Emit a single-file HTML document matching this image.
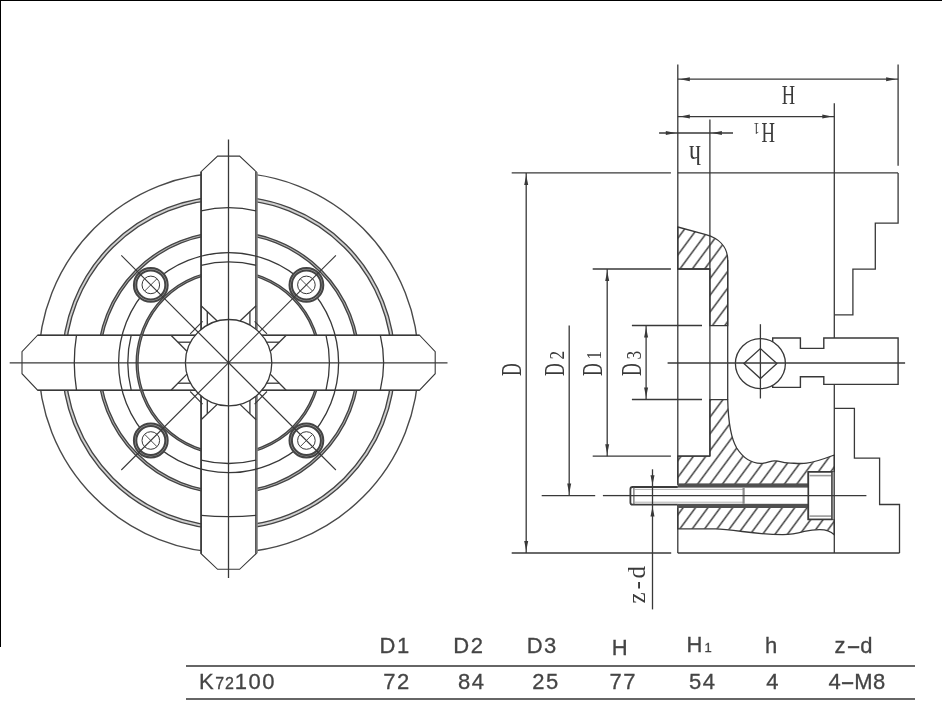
<!DOCTYPE html>
<html lang="en">
<head>
<meta charset="utf-8">
<title>K72100 four-jaw chuck dimensions</title>
<style>
html,body{margin:0;padding:0;background:#fff;}
body{width:942px;height:712px;overflow:hidden;position:relative;font-family:"Liberation Sans",sans-serif;}
#frame-top{position:absolute;left:0;top:0;width:942px;height:1.2px;background:#000;}
#frame-left{position:absolute;left:0;top:0;width:1.2px;height:646.5px;background:#000;}
svg{position:absolute;left:0;top:0;}
#sheet{position:absolute;left:0;top:0;width:942px;height:712px;filter:grayscale(1);}
.tbl{position:absolute;left:185.8px;width:729.7px;height:1.8px;background:#666;}
.t{position:absolute;white-space:nowrap;color:#444;font-size:22px;line-height:22px;letter-spacing:1.5px;-webkit-text-stroke:0.3px #444;}
.t .dash{display:inline-block;transform:scaleX(2.0);margin:0 3.1px 0 2.7px;letter-spacing:0;}
.t small{font-size:16px;letter-spacing:0.9px;}
.t .s1{font-size:13px;letter-spacing:0;position:relative;top:0.5px;margin-left:0.6px;}
</style>
</head>
<body>
<div id="sheet">
<svg width="942" height="712" viewBox="0 0 942 712">
<g id="front" fill="none">
<circle cx="228.60" cy="362.70" r="190.00" stroke="#4a4a4a" stroke-width="1.4" fill="none"/>
<circle cx="228.60" cy="362.70" r="164.90" stroke="#d0d0d0" stroke-width="3.2" fill="none"/>
<circle cx="228.60" cy="362.70" r="163.30" stroke="#444" stroke-width="1.35" fill="none"/>
<circle cx="228.60" cy="362.70" r="166.50" stroke="#444" stroke-width="1.35" fill="none"/>
<circle cx="228.60" cy="362.70" r="130.00" stroke="#b4b4b4" stroke-width="2.3" fill="none"/>
<circle cx="228.60" cy="362.70" r="128.85" stroke="#444" stroke-width="1.35" fill="none"/>
<circle cx="228.60" cy="362.70" r="131.15" stroke="#444" stroke-width="1.35" fill="none"/>
<circle cx="228.60" cy="362.70" r="91.40" stroke="#a8a8a8" stroke-width="1.8" fill="none"/>
<circle cx="228.60" cy="362.70" r="90.50" stroke="#444" stroke-width="1.35" fill="none"/>
<circle cx="228.60" cy="362.70" r="92.30" stroke="#444" stroke-width="1.35" fill="none"/>
<path d="M201.10,342.70 L201.10,171.70 L217.60,156.10 L239.60,156.10 L256.10,171.70 L256.10,342.70" stroke="#383838" stroke-width="1.1" fill="#fff" />
<line x1="201.10" y1="171.70" x2="201.10" y2="332.70" stroke="#383838" stroke-width="1.6" />
<line x1="256.10" y1="171.70" x2="256.10" y2="332.70" stroke="#383838" stroke-width="1.6" />
<line x1="257.00" y1="172.20" x2="257.00" y2="329.70" stroke="#808080" stroke-width="1.6" />
<path d="M248.60,335.20 L419.60,335.20 L435.20,351.70 L435.20,373.70 L419.60,390.20 L248.60,390.20" stroke="#383838" stroke-width="1.1" fill="#fff" />
<line x1="419.60" y1="335.20" x2="258.60" y2="335.20" stroke="#383838" stroke-width="1.6" />
<line x1="419.60" y1="390.20" x2="258.60" y2="390.20" stroke="#383838" stroke-width="1.6" />
<path d="M256.10,382.70 L256.10,553.70 L239.60,569.30 L217.60,569.30 L201.10,553.70 L201.10,382.70" stroke="#383838" stroke-width="1.1" fill="#fff" />
<line x1="256.10" y1="553.70" x2="256.10" y2="392.70" stroke="#383838" stroke-width="1.6" />
<line x1="201.10" y1="553.70" x2="201.10" y2="392.70" stroke="#383838" stroke-width="1.6" />
<line x1="257.00" y1="553.20" x2="257.00" y2="395.70" stroke="#808080" stroke-width="1.6" />
<path d="M208.60,390.20 L37.60,390.20 L22.00,373.70 L22.00,351.70 L37.60,335.20 L208.60,335.20" stroke="#383838" stroke-width="1.1" fill="#fff" />
<line x1="37.60" y1="390.20" x2="198.60" y2="390.20" stroke="#383838" stroke-width="1.6" />
<line x1="37.60" y1="335.20" x2="198.60" y2="335.20" stroke="#383838" stroke-width="1.6" />
<circle cx="228.60" cy="362.70" r="110.00" stroke="#383838" stroke-width="1.3" fill="none"/>
<path d="M201.10,210.90 Q228.60,204.50 256.10,210.90" stroke="#383838" stroke-width="1.3" fill="none" />
<path d="M201.10,265.30 Q228.60,258.50 256.10,265.30" stroke="#383838" stroke-width="1.3" fill="none" />
<path d="M380.30,335.20 Q386.90,362.70 380.30,390.20" stroke="#383838" stroke-width="1.3" fill="none" />
<path d="M326.00,335.20 Q332.80,362.70 326.00,390.20" stroke="#383838" stroke-width="1.3" fill="none" />
<path d="M256.10,515.40 Q228.60,518.00 201.10,515.40" stroke="#383838" stroke-width="1.3" fill="none" />
<path d="M256.10,460.10 Q228.60,466.90 201.10,460.10" stroke="#383838" stroke-width="1.3" fill="none" />
<path d="M76.50,390.20 Q72.10,362.70 76.50,335.20" stroke="#383838" stroke-width="1.3" fill="none" />
<path d="M131.20,390.20 Q124.40,362.70 131.20,335.20" stroke="#383838" stroke-width="1.3" fill="none" />
<path d="M141.44,335.20 A91.4,91.4 0 0 0 141.44,390.20" stroke="#a8a8a8" stroke-width="1.8" fill="none" />
<path d="M142.38,335.20 A90.5,90.5 0 0 0 142.38,390.20" stroke="#444" stroke-width="1.35" fill="none" />
<path d="M140.49,335.20 A92.30000000000001,92.30000000000001 0 0 0 140.49,390.20" stroke="#444" stroke-width="1.35" fill="none" />
<circle cx="228.60" cy="362.70" r="43.20" stroke="#383838" stroke-width="1.3" fill="#fff"/>
<line x1="201.10" y1="305.70" x2="217.20" y2="321.03" stroke="#383838" stroke-width="1.3" />
<line x1="207.30" y1="311.60" x2="207.30" y2="325.12" stroke="#383838" stroke-width="1.3" />
<line x1="256.10" y1="305.70" x2="240.00" y2="321.03" stroke="#383838" stroke-width="1.3" />
<line x1="249.90" y1="311.60" x2="249.90" y2="325.12" stroke="#383838" stroke-width="1.3" />
<line x1="286.20" y1="335.20" x2="270.27" y2="351.30" stroke="#383838" stroke-width="1.3" />
<line x1="279.27" y1="342.20" x2="266.63" y2="342.20" stroke="#383838" stroke-width="1.3" />
<line x1="286.20" y1="390.20" x2="270.27" y2="374.10" stroke="#383838" stroke-width="1.3" />
<line x1="279.27" y1="383.20" x2="266.63" y2="383.20" stroke="#383838" stroke-width="1.3" />
<line x1="256.10" y1="419.70" x2="240.00" y2="404.37" stroke="#383838" stroke-width="1.3" />
<line x1="249.90" y1="413.80" x2="249.90" y2="400.28" stroke="#383838" stroke-width="1.3" />
<line x1="201.10" y1="419.70" x2="217.20" y2="404.37" stroke="#383838" stroke-width="1.3" />
<line x1="207.30" y1="413.80" x2="207.30" y2="400.28" stroke="#383838" stroke-width="1.3" />
<line x1="171.00" y1="390.20" x2="186.93" y2="374.10" stroke="#383838" stroke-width="1.3" />
<line x1="177.93" y1="383.20" x2="190.57" y2="383.20" stroke="#383838" stroke-width="1.3" />
<line x1="171.00" y1="335.20" x2="186.93" y2="351.30" stroke="#383838" stroke-width="1.3" />
<line x1="177.93" y1="342.20" x2="190.57" y2="342.20" stroke="#383838" stroke-width="1.3" />
<circle cx="150.80" cy="284.90" r="15.50" stroke="#fff" stroke-width="3.9" fill="#fff"/>
<circle cx="150.80" cy="284.90" r="15.70" stroke="#b0b0b0" stroke-width="2.4" fill="none"/>
<circle cx="150.80" cy="284.90" r="14.50" stroke="#444" stroke-width="2.0" fill="none"/>
<circle cx="150.80" cy="284.90" r="16.90" stroke="#444" stroke-width="2.0" fill="none"/>
<circle cx="150.80" cy="284.90" r="8.80" stroke="#383838" stroke-width="1.0" fill="none"/>
<line x1="156.88" y1="278.82" x2="144.72" y2="290.98" stroke="#383838" stroke-width="0.9" />
<circle cx="150.80" cy="440.50" r="15.50" stroke="#fff" stroke-width="3.9" fill="#fff"/>
<circle cx="150.80" cy="440.50" r="15.70" stroke="#b0b0b0" stroke-width="2.4" fill="none"/>
<circle cx="150.80" cy="440.50" r="14.50" stroke="#444" stroke-width="2.0" fill="none"/>
<circle cx="150.80" cy="440.50" r="16.90" stroke="#444" stroke-width="2.0" fill="none"/>
<circle cx="150.80" cy="440.50" r="8.80" stroke="#383838" stroke-width="1.0" fill="none"/>
<line x1="156.88" y1="446.58" x2="144.72" y2="434.42" stroke="#383838" stroke-width="0.9" />
<circle cx="306.40" cy="284.90" r="15.50" stroke="#fff" stroke-width="3.9" fill="#fff"/>
<circle cx="306.40" cy="284.90" r="15.70" stroke="#b0b0b0" stroke-width="2.4" fill="none"/>
<circle cx="306.40" cy="284.90" r="14.50" stroke="#444" stroke-width="2.0" fill="none"/>
<circle cx="306.40" cy="284.90" r="16.90" stroke="#444" stroke-width="2.0" fill="none"/>
<circle cx="306.40" cy="284.90" r="8.80" stroke="#383838" stroke-width="1.0" fill="none"/>
<line x1="300.32" y1="278.82" x2="312.48" y2="290.98" stroke="#383838" stroke-width="0.9" />
<circle cx="306.40" cy="440.50" r="15.50" stroke="#fff" stroke-width="3.9" fill="#fff"/>
<circle cx="306.40" cy="440.50" r="15.70" stroke="#b0b0b0" stroke-width="2.4" fill="none"/>
<circle cx="306.40" cy="440.50" r="14.50" stroke="#444" stroke-width="2.0" fill="none"/>
<circle cx="306.40" cy="440.50" r="16.90" stroke="#444" stroke-width="2.0" fill="none"/>
<circle cx="306.40" cy="440.50" r="8.80" stroke="#383838" stroke-width="1.0" fill="none"/>
<line x1="300.32" y1="446.58" x2="312.48" y2="434.42" stroke="#383838" stroke-width="0.9" />
<line x1="202.60" y1="321.30" x2="190.20" y2="333.90" stroke="#383838" stroke-width="1.1" />
<line x1="202.60" y1="404.10" x2="190.20" y2="391.50" stroke="#383838" stroke-width="1.1" />
<line x1="254.60" y1="321.30" x2="267.00" y2="333.90" stroke="#383838" stroke-width="1.1" />
<line x1="254.60" y1="404.10" x2="267.00" y2="391.50" stroke="#383838" stroke-width="1.1" />
<line x1="121.30" y1="255.40" x2="335.90" y2="470.00" stroke="#383838" stroke-width="1.1" />
<line x1="121.30" y1="470.00" x2="335.90" y2="255.40" stroke="#383838" stroke-width="1.1" />
<line x1="9.70" y1="362.80" x2="447.50" y2="362.80" stroke="#383838" stroke-width="1.3" />
<line x1="228.50" y1="139.60" x2="228.50" y2="578.00" stroke="#383838" stroke-width="1.3" />
</g>
<defs>
<pattern id="hatch" width="12.4" height="700" patternUnits="userSpaceOnUse" patternTransform="translate(872.71,0) skewX(-36.5)"><line x1="6.2" y1="-10" x2="6.2" y2="710" stroke="#444" stroke-width="1.9"/></pattern>
<pattern id="hatch2" width="12.4" height="700" patternUnits="userSpaceOnUse" patternTransform="translate(1037.25,0) skewX(-36.5)"><line x1="6.2" y1="-10" x2="6.2" y2="710" stroke="#444" stroke-width="1.9"/></pattern>
<pattern id="hatch3" width="12.4" height="700" patternUnits="userSpaceOnUse" patternTransform="translate(1064.99,0) skewX(-36.5)"><line x1="6.2" y1="-10" x2="6.2" y2="710" stroke="#444" stroke-width="1.9"/></pattern>
</defs>
<g id="section" fill="none">
<path d="M677.8,227 L705.9,234.6 C717.9,238 727.7,246 727.7,260 L727.7,325.6 L709.9,325.6 L709.9,269 L677.8,269 Z" stroke="#383838" stroke-width="1.3" fill="url(#hatch)" />
<path d="M709.9,399.6 L727.7,399.6 C728.2,420 730.7,438 736.7,448 C743.7,459 751.7,463.2 760.7,463.4 C767.7,463.4 769.7,460.8 774.7,460.8 C780.7,460.8 781.7,462.7 787.7,462.9 C795.7,463.2 799.7,464 806.7,463.2 C813.7,462.4 822.3,459.5 834.3,455 L834.3,471.9 L808.3,471.9 L808.3,484.6 L677.8,484.6 L677.8,456.1 L709.9,456.1 Z" stroke="#383838" stroke-width="1.3" fill="url(#hatch2)" />
<path d="M677.8,505.6 L808.3,505.6 L808.3,519.4 L834.3,519.4 L834.3,534.8 C831.3,532 826.3,529.4 819.3,529.6 C812.3,529.8 808.3,530.6 804.3,531.4 C796.3,533.6 790.3,534.8 782.3,534.7 C772.3,534.6 756.3,533.4 742.3,531.5 C730.3,529.8 722.3,528.8 715.3,528.8 L677.8,528.8 Z" stroke="#383838" stroke-width="1.3" fill="url(#hatch3)" />
<line x1="677.80" y1="269.00" x2="709.90" y2="269.00" stroke="#383838" stroke-width="1.6" />
<line x1="677.80" y1="456.10" x2="709.90" y2="456.10" stroke="#383838" stroke-width="1.3" />
<line x1="677.80" y1="64.40" x2="677.80" y2="483.40" stroke="#383838" stroke-width="1.3" />
<line x1="677.80" y1="508.00" x2="677.80" y2="553.00" stroke="#383838" stroke-width="1.3" />
<line x1="709.90" y1="119.50" x2="709.90" y2="456.10" stroke="#383838" stroke-width="1.3" />
<line x1="727.70" y1="260.00" x2="727.70" y2="399.60" stroke="#383838" stroke-width="1.3" />
<line x1="834.30" y1="103.20" x2="834.30" y2="337.90" stroke="#383838" stroke-width="1.3" />
<line x1="834.30" y1="384.30" x2="834.30" y2="553.00" stroke="#383838" stroke-width="1.3" />
<line x1="898.10" y1="64.60" x2="898.10" y2="165.80" stroke="#383838" stroke-width="1.3" />
<line x1="511.70" y1="172.90" x2="670.90" y2="172.90" stroke="#383838" stroke-width="1.3" />
<line x1="677.80" y1="172.90" x2="898.10" y2="172.90" stroke="#383838" stroke-width="1.3" />
<line x1="511.70" y1="553.00" x2="671.20" y2="553.00" stroke="#383838" stroke-width="1.3" />
<line x1="677.80" y1="553.00" x2="899.50" y2="553.00" stroke="#383838" stroke-width="1.3" />
<line x1="667.60" y1="363.00" x2="905.10" y2="363.00" stroke="#383838" stroke-width="1.3" />
<path d="M898.10,172.90 L898.10,223.10 L875.30,223.10 L875.30,269.20 L852.90,269.20 L852.90,314.80 L834.30,314.80" stroke="#383838" stroke-width="1.3" fill="none" />
<path d="M834.30,408.40 L854.40,408.40 L854.40,458.10 L879.60,458.10 L879.60,504.50 L899.50,504.50 L899.50,553.00" stroke="#383838" stroke-width="1.3" fill="none" />
<circle cx="760.40" cy="363.60" r="25.00" stroke="#383838" stroke-width="1.3" fill="none"/>
<path d="M743.90,363.60 L760.40,348.60 L776.90,363.60 L760.40,378.60 Z" stroke="#383838" stroke-width="1.3" fill="none" />
<line x1="760.40" y1="324.20" x2="760.40" y2="398.50" stroke="#383838" stroke-width="1.3" />
<path d="M772.70,342.00 L772.70,338.00 L800.40,338.00 L800.40,348.40 L823.80,348.40 L823.80,338.00 L898.10,338.00 L898.10,384.40 L823.80,384.40 L823.80,376.70 L800.40,376.70 L800.40,387.40 L772.70,387.40 L772.70,385.40" stroke="#383838" stroke-width="1.4" fill="none" />
<rect x="677.8" y="483.4" width="130.50" height="4.2" fill="#505050"/>
<rect x="677.8" y="503.8" width="130.50" height="4.2" fill="#505050"/>
<path d="M677.8,487.0 L632.6,487.0 Q630.4,487.0 630.4,489.2 L630.4,502.4 Q630.4,504.6 632.6,504.6 L677.8,504.6" stroke="#3c3c3c" stroke-width="1.8" fill="none" />
<line x1="633.90" y1="487.00" x2="633.90" y2="504.60" stroke="#555" stroke-width="1.1" />
<line x1="634.00" y1="489.40" x2="743.40" y2="489.40" stroke="#aaa" stroke-width="0.9" />
<line x1="634.00" y1="502.20" x2="743.40" y2="502.20" stroke="#aaa" stroke-width="0.9" />
<line x1="743.60" y1="487.60" x2="743.60" y2="503.80" stroke="#8a8a8a" stroke-width="2.2" />
<rect x="808.3" y="471.9" width="23.7" height="47.5" fill="#fff" stroke="#3a3a3a" stroke-width="1.7"/>
<line x1="809.50" y1="475.60" x2="831.00" y2="475.60" stroke="#999" stroke-width="1.6" />
<line x1="809.50" y1="516.10" x2="831.00" y2="516.10" stroke="#999" stroke-width="1.6" />
<line x1="833.40" y1="471.90" x2="833.40" y2="519.40" stroke="#999" stroke-width="1.6" />
<line x1="541.70" y1="495.60" x2="595.20" y2="495.60" stroke="#383838" stroke-width="1.3" />
<line x1="602.90" y1="495.60" x2="631.00" y2="495.60" stroke="#383838" stroke-width="1.3" />
<line x1="631.00" y1="495.60" x2="866.40" y2="495.60" stroke="#383838" stroke-width="1.2" />
<line x1="677.80" y1="79.20" x2="898.10" y2="79.20" stroke="#383838" stroke-width="1.3" />
<polygon points="680.00,79.20 689.80,77.20 689.80,81.20" fill="#383838" stroke="none"/>
<polygon points="895.90,79.20 886.10,81.20 886.10,77.20" fill="#383838" stroke="none"/>
<line x1="677.80" y1="116.60" x2="834.30" y2="116.60" stroke="#383838" stroke-width="1.3" />
<polygon points="680.00,116.60 689.80,114.60 689.80,118.60" fill="#383838" stroke="none"/>
<polygon points="832.10,116.60 822.30,118.60 822.30,114.60" fill="#383838" stroke="none"/>
<line x1="659.10" y1="133.00" x2="733.00" y2="133.00" stroke="#383838" stroke-width="1.3" />
<polygon points="675.60,133.00 665.80,135.00 665.80,131.00" fill="#383838" stroke="none"/>
<polygon points="712.10,133.00 721.90,131.00 721.90,135.00" fill="#383838" stroke="none"/>
<line x1="526.20" y1="172.90" x2="526.20" y2="553.00" stroke="#383838" stroke-width="1.3" />
<polygon points="526.20,175.10 528.20,184.90 524.20,184.90" fill="#383838" stroke="none"/>
<polygon points="526.20,550.80 524.20,541.00 528.20,541.00" fill="#383838" stroke="none"/>
<line x1="569.20" y1="325.50" x2="569.20" y2="495.60" stroke="#383838" stroke-width="1.3" />
<polygon points="569.20,493.40 567.20,483.60 571.20,483.60" fill="#383838" stroke="none"/>
<line x1="592.70" y1="269.00" x2="670.90" y2="269.00" stroke="#383838" stroke-width="1.3" />
<line x1="592.70" y1="456.20" x2="670.90" y2="456.20" stroke="#383838" stroke-width="1.3" />
<line x1="607.20" y1="269.00" x2="607.20" y2="456.20" stroke="#383838" stroke-width="1.3" />
<polygon points="607.20,271.20 609.20,281.00 605.20,281.00" fill="#383838" stroke="none"/>
<polygon points="607.20,454.00 605.20,444.20 609.20,444.20" fill="#383838" stroke="none"/>
<line x1="631.90" y1="325.50" x2="702.00" y2="325.50" stroke="#383838" stroke-width="1.3" />
<line x1="631.90" y1="399.50" x2="702.00" y2="399.50" stroke="#383838" stroke-width="1.3" />
<line x1="646.10" y1="325.50" x2="646.10" y2="399.50" stroke="#383838" stroke-width="1.3" />
<polygon points="646.10,327.70 648.10,337.50 644.10,337.50" fill="#383838" stroke="none"/>
<polygon points="646.10,397.30 644.10,387.50 648.10,387.50" fill="#383838" stroke="none"/>
<line x1="652.50" y1="469.30" x2="652.50" y2="609.40" stroke="#383838" stroke-width="1.3" />
<polygon points="652.50,485.00 650.50,475.20 654.50,475.20" fill="#383838" stroke="none"/>
<polygon points="652.50,506.60 654.50,516.40 650.50,516.40" fill="#383838" stroke="none"/>
</g>
<text transform="translate(788.30,104.30) rotate(0) scale(0.66,1)" font-size="28" text-anchor="middle" font-family="'Liberation Serif',serif" fill="#3a3a3a" >H</text>
<text transform="translate(775.00,123.10) rotate(180) scale(0.66,1)" font-size="28.5" text-anchor="start" font-family="'Liberation Serif',serif" fill="#3a3a3a" >H</text>
<text transform="translate(759.60,123.30) rotate(180) scale(0.75,1)" font-size="16" text-anchor="start" font-family="'Liberation Serif',serif" fill="#3a3a3a" >1</text>
<text transform="translate(701.00,145.60) rotate(180) scale(0.86,1)" font-size="28" text-anchor="start" font-family="'Liberation Serif',serif" fill="#3a3a3a" >h</text>
<text transform="translate(521.20,375.90) rotate(-90) scale(0.62,1)" font-size="28.5" text-anchor="start" font-family="'Liberation Serif',serif" fill="#3a3a3a" >D</text>
<text transform="translate(564.40,375.90) rotate(-90) scale(0.62,1)" font-size="28.5" text-anchor="start" font-family="'Liberation Serif',serif" fill="#3a3a3a" >D</text>
<text transform="translate(564.20,359.40) rotate(-90) scale(0.86,1)" font-size="20" text-anchor="start" font-family="'Liberation Serif',serif" fill="#3a3a3a" >2</text>
<text transform="translate(601.60,375.90) rotate(-90) scale(0.62,1)" font-size="28.5" text-anchor="start" font-family="'Liberation Serif',serif" fill="#3a3a3a" >D</text>
<text transform="translate(601.40,359.40) rotate(-90) scale(0.86,1)" font-size="20" text-anchor="start" font-family="'Liberation Serif',serif" fill="#3a3a3a" >1</text>
<text transform="translate(641.00,375.90) rotate(-90) scale(0.62,1)" font-size="28.5" text-anchor="start" font-family="'Liberation Serif',serif" fill="#3a3a3a" >D</text>
<text transform="translate(640.80,359.40) rotate(-90) scale(0.86,1)" font-size="20" text-anchor="start" font-family="'Liberation Serif',serif" fill="#3a3a3a" >3</text>
<text transform="translate(644.60,603.50) rotate(-90) scale(1.0,1)" font-size="25" text-anchor="start" font-family="'Liberation Serif',serif" fill="#3a3a3a" textLength="37.5" lengthAdjust="spacing">z-d</text>
</svg>
<div class="tbl" style="top:665.4px"></div>
<div class="tbl" style="top:698.2px"></div>
<div class="t" style="left:379.6px;top:635.3px">D1</div>
<div class="t" style="left:453.3px;top:635.3px">D2</div>
<div class="t" style="left:526.7px;top:635.3px">D3</div>
<div class="t" style="left:611.8px;top:636.5px">H</div>
<div class="t" style="left:686.5px;top:633.5px">H<span class="s1">1</span></div>
<div class="t" style="left:765.0px;top:635.3px">h</div>
<div class="t" style="left:834.6px;top:635.3px">z<span class="dash">-</span>d</div>
<div class="t" style="left:199.0px;top:670.8px">K<small>72</small>100</div>
<div class="t" style="left:383.2px;top:670.8px">72</div>
<div class="t" style="left:458.0px;top:670.8px">84</div>
<div class="t" style="left:532.3px;top:670.8px">25</div>
<div class="t" style="left:609.6px;top:670.8px">77</div>
<div class="t" style="left:689.0px;top:670.8px">54</div>
<div class="t" style="left:766.2px;top:670.8px">4</div>
<div class="t" style="left:828.4px;top:670.8px;letter-spacing:0.5px">4<span class="dash">-</span>M8</div>
</div>
<div id="frame-top"></div>
<div id="frame-left"></div>
</body>
</html>
